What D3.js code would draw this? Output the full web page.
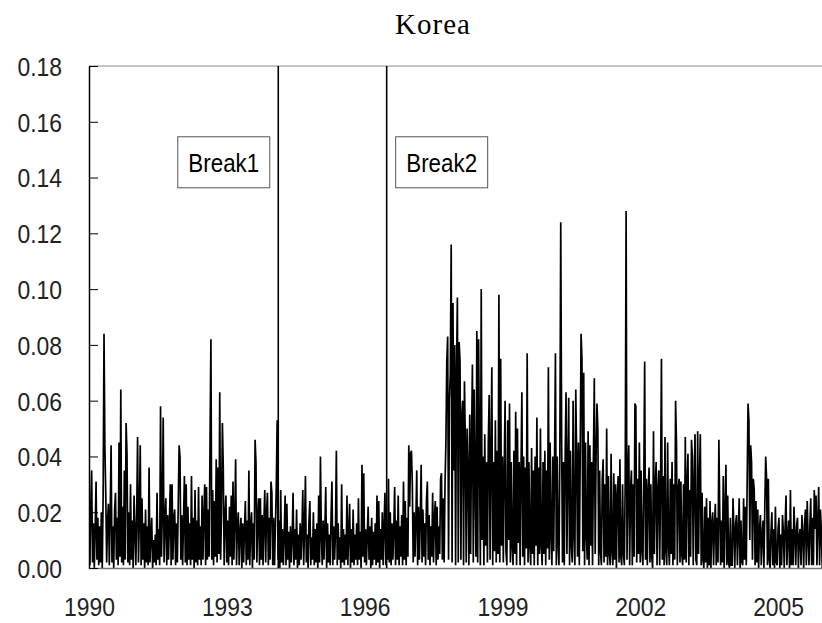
<!DOCTYPE html>
<html>
<head>
<meta charset="utf-8">
<script src="https://cdn.jsdelivr.net/npm/d3@7"></script>
<style>
  body { margin: 0; background: #fff; }
  svg { display: block; }
</style>
</head>
<body>
<div id="chart"></div>
<script>
var svgWidth = 822;
var svgHeight = 623;

// plot box (x end runs past the picture edge, like the original)
var margin = { top: 66, left: 89 };
var plotRight = 824;
var plotBottom = 568;

// Data: absolute returns, one value per week,
// stored in thousandths (12 -> 0.012)
var weeksPerYear = 52;
var years = [1990, 1991, 1992, 1993, 1994, 1995, 1996, 1997, 1998, 1999, 2000, 2001, 2002, 2003, 2004, 2005];

var r1990 = [12,1,22,35,2,16,0,14,31,3,18,1,15,2,20,0,26,84,43,26,2,17,23,1,19,44,2,15,0,21,27,3,18,1,45,4,64,2,22,1,35,3,52,41,2,20,1,30,3,17,0,26];
var r1991 = [14,1,19,47,2,18,44,1,25,3,16,0,21,2,15,1,36,2,11,18,0,10,2,12,1,27,3,14,1,58,4,20,54,2,17,25,1,19,3,16,30,1,30,3,18,21,1,16,2,22,44,40];
var r1992 = [3,19,1,17,33,2,30,1,22,3,16,1,33,3,18,0,28,2,17,1,29,3,15,1,26,3,19,30,1,29,3,21,4,45,82,3,28,1,24,4,39,2,36,5,63,3,20,52,36,1,18,26];
var r1993 = [2,17,1,22,4,26,1,31,3,18,39,1,15,20,1,13,18,0,16,2,14,24,1,17,3,35,1,15,20,0,16,3,46,38,2,18,25,1,25,3,19,1,17,28,2,20,27,1,18,3,31,27];
var r1994 = [1,18,1,15,29,53,3,17,0,28,2,14,1,12,26,1,23,3,13,0,15,2,11,27,1,14,3,21,0,12,1,16,3,13,28,1,15,33,2,12,0,17,24,1,11,3,20,1,14,2,16,0];
var r1995 = [26,2,40,12,1,17,3,14,29,0,16,2,12,1,18,31,1,15,3,13,42,1,16,3,11,0,30,2,14,1,12,3,26,1,13,23,0,14,2,21,1,12,3,16,1,25,3,13,0,37,4,34];
var r1996 = [2,14,1,12,22,3,15,0,18,1,13,3,16,1,26,2,24,0,14,3,20,1,15,27,1,12,3,32,2,20,1,16,3,14,29,1,17,3,26,1,15,4,19,1,31,3,24,1,18,4,44,22];
var r1997 = [41,42,30,2,20,4,17,35,1,22,3,18,37,2,21,4,16,1,24,31,3,19,1,15,4,27,2,18,24,1,22,3,15,5,32,34,3,25,2,30,45,74,83,3,60,70,116,2,95,35,80,1];
var r1998 = [70,97,2,81,74,3,55,60,1,67,45,2,50,35,1,55,5,45,73,2,64,30,4,85,2,82,42,1,100,10,40,1,48,8,38,2,45,62,3,40,72,1,38,6,53,2,42,5,98,2,75,8];
var r1999 = [40,2,35,60,6,1,53,10,59,2,38,8,1,42,5,56,1,50,9,38,1,35,63,4,40,1,36,7,77,2,38,8,1,43,5,35,1,40,8,54,1,36,5,50,8,1,38,5,42,1,35,7];
var r2000 = [72,3,45,12,1,40,6,38,77,1,40,8,1,42,124,47,2,38,1,40,63,5,35,61,1,42,8,2,60,12,1,64,40,4,45,1,38,84,75,6,70,1,45,12,3,49,1,44,8,38,1,40];
var r2001 = [68,5,40,59,50,1,35,6,1,32,39,2,30,4,50,1,33,5,1,41,6,1,34,3,30,0,26,33,2,39,4,1,30,5,1,32,128,3,30,44,1,28,35,1,30,4,59,58,2,32,5,45];
var r2002 = [2,35,6,1,30,74,3,32,1,28,36,2,30,4,0,49,5,30,38,1,28,35,1,30,75,3,33,1,47,6,1,45,8,1,32,5,38,1,30,3,60,45,1,28,32,2,31,5,1,30,3,47];
var r2003 = [2,30,41,1,28,4,46,40,1,30,48,3,1,49,5,32,48,1,27,3,0,22,2,25,0,18,1,24,0,16,20,1,15,23,1,18,2,46,20,1,17,2,33,0,20,37,1,26,2,0,18,1];
var r2004 = [1,25,14,0,16,19,1,13,25,0,17,2,1,25,3,22,1,30,59,53,10,44,38,3,32,28,1,24,2,21,0,14,19,1,12,17,0,22,40,32,1,32,3,0,13,20,1,14,0,22,2,1];
var r2005 = [14,18,0,12,1,19,13,0,15,26,1,11,17,0,28,1,14,1,22,12,1,15,18,0,11,14,1,19,12,0,16,21,1,24,11,1,15,25,1,18,1,28,14,26,1,17,29,1,21,13,0,18];

var series = [r1990, r1991, r1992, r1993, r1994, r1995, r1996, r1997,
              r1998, r1999, r2000, r2001, r2002, r2003, r2004, r2005];

// structural breaks (decimal years) and their labels
var breakDates = [1994.12, 1996.48];
var breakLabels = ["Break1", "Break2"];

var yTicks = [0, 0.02, 0.04, 0.06, 0.08, 0.10, 0.12, 0.14, 0.16, 0.18];
var xTicks = [1990, 1993, 1996, 1999, 2002, 2005];

// build the table
var data = [];
years.forEach(function(yr, k) {
  series[k].forEach(function(v, i) {
    data.push({ t: yr + i / weeksPerYear, v: v / 1000 });
  });
});

var svg = d3.select("#chart")
  .append("svg")
  .attr("width", svgWidth)
  .attr("height", svgHeight);

var x = d3.scaleLinear()
  .domain([1990, 2006])
  .range([margin.left, plotRight]);

var y = d3.scaleLinear()
  .domain([0, 0.18])
  .range([plotBottom, margin.top]);

svg.append("clipPath")
  .attr("id", "plotclip")
  .append("rect")
  .attr("x", margin.left)
  .attr("y", margin.top)
  .attr("width", plotRight - margin.left)
  .attr("height", plotBottom - margin.top);

// top border
svg.append("line")
  .attr("x1", margin.left).attr("x2", svgWidth)
  .attr("y1", y(0.18)).attr("y2", y(0.18))
  .attr("stroke", "#8a8a8a")
  .attr("stroke-width", 1);

// the series
var line = d3.line()
  .x(d => x(d.t))
  .y(d => y(d.v));

svg.append("path")
  .datum(data)
  .attr("clip-path", "url(#plotclip)")
  .attr("d", line)
  .attr("fill", "none")
  .attr("stroke", "#000")
  .attr("stroke-width", 1.7)
  .attr("stroke-linejoin", "miter")
  .attr("stroke-miterlimit", 2);

// bottom axis (line only, labels below)
var xAxis = svg.append("g")
  .attr("transform", `translate(0, ${y(0)})`)
  .call(d3.axisBottom(x).tickValues(xTicks).tickFormat(d3.format("d")).tickSize(0));

xAxis.select(".domain").attr("stroke", "#777").attr("stroke-width", 1.5);
xAxis.selectAll("text")
  .attr("y", 0)
  .attr("dy", 0)
  .attr("transform", "translate(0,48) scale(0.88,1)")
  .attr("font-family", "Liberation Sans, Arial, sans-serif")
  .attr("font-size", 26)
  .attr("fill", "#222");

// left axis, ticks pointing into the plot
var yAxis = svg.append("g")
  .attr("transform", `translate(${margin.left}, 0)`)
  .call(d3.axisLeft(y).tickValues(yTicks).tickFormat(d3.format(".2f"))
    .tickSizeInner(-9).tickSizeOuter(0).tickPadding(27));

yAxis.select(".domain").attr("stroke", "#000").attr("stroke-width", 1.5);
yAxis.selectAll(".tick line").attr("stroke", "#000").attr("stroke-width", 1);
yAxis.selectAll("text")
  .attr("x", 0)
  .attr("dy", "0.36em")
  .attr("transform", "translate(-27,0) scale(0.88,1)")
  .attr("font-family", "Liberation Sans, Arial, sans-serif")
  .attr("font-size", 26)
  .attr("fill", "#222");

// break lines
svg.selectAll(".break")
  .data(breakDates)
  .enter()
  .append("line")
  .attr("class", "break")
  .attr("x1", d => x(d)).attr("x2", d => x(d))
  .attr("y1", y(0.18)).attr("y2", y(0))
  .attr("stroke", "#000")
  .attr("stroke-width", 1.6);

// break label boxes: first sits left of its line, second right of it
var boxW = 92, boxH = 51;
var boxTop = y(0.1548);
var boxLeft = [x(breakDates[0]) - 101, x(breakDates[1]) + 8.5];

var boxes = svg.selectAll(".blabel")
  .data(breakLabels)
  .enter()
  .append("g")
  .attr("class", "blabel")
  .attr("transform", (d, i) => `translate(${boxLeft[i]}, ${boxTop})`);

boxes.append("rect")
  .attr("x", 0.5).attr("y", 0.5)
  .attr("width", boxW).attr("height", boxH)
  .attr("fill", "#fff")
  .attr("stroke", "#555")
  .attr("stroke-width", 1);

boxes.append("text")
  .attr("transform", `translate(${boxW / 2 + 0.5}, ${boxH / 2 + 10}) scale(0.86,1)`)
  .attr("text-anchor", "middle")
  .attr("font-family", "Liberation Sans, Arial, sans-serif")
  .attr("font-size", 26)
  .attr("fill", "#000")
  .text(d => d);

// title
svg.append("text")
  .attr("x", 433)
  .attr("y", 34)
  .attr("text-anchor", "middle")
  .attr("font-family", "Liberation Serif, Times New Roman, serif")
  .attr("font-size", 29)
  .attr("letter-spacing", 1)
  .attr("fill", "#000")
  .text("Korea");
</script>
</body>
</html>
